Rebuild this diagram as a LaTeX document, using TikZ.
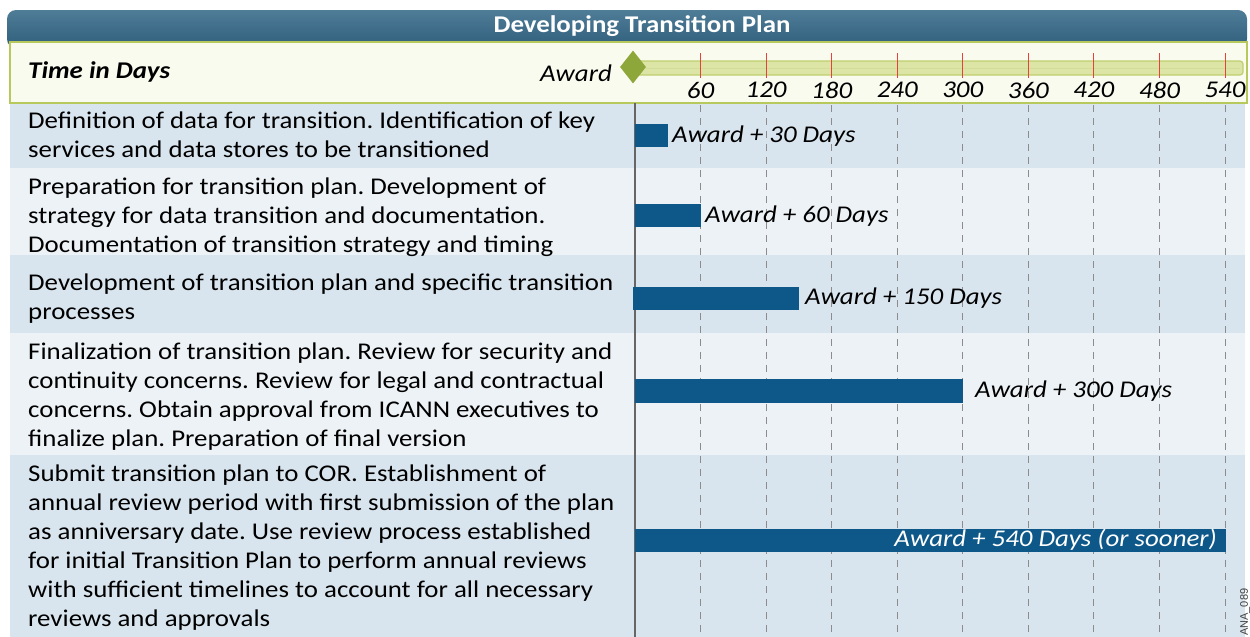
\documentclass[tikz,border=0pt]{standalone}
\usepackage{fontspec}
\setmainfont{Carlito}[FakeStretch=1.12]
\setsansfont{Liberation Sans}
\usetikzlibrary{shapes.geometric}
\frenchspacing
\definecolor{titletop}{HTML}{4F7D98}
\definecolor{titlebot}{HTML}{2F5E7B}
\definecolor{hdrbg}{HTML}{FAFBEF}
\definecolor{hdrborder}{HTML}{B7C95C}
\definecolor{tubefill}{HTML}{DCE4A6}
\definecolor{tubeborder}{HTML}{C0CF6E}
\definecolor{diamondc}{HTML}{8EA73B}
\definecolor{rowdark}{HTML}{D9E5EE}
\definecolor{rowlight}{HTML}{EDF2F6}
\definecolor{barc}{HTML}{0D5789}
\definecolor{tickred}{HTML}{E8413C}
\definecolor{dashc}{HTML}{8C8C8C}
\definecolor{axisc}{HTML}{666666}
\tikzset{
  rowtext/.style={anchor=north west, inner sep=0pt, align=left, font=\fontsize{24}{29}\selectfont, text=black},
  barlabel/.style={anchor=west, inner sep=0pt, font=\fontsize{24}{28}\selectfont\itshape},
  ticklabel/.style={inner sep=0pt, font=\fontsize{24}{28}\selectfont\itshape},
  bar/.style={fill=barc},
  gridline/.style={dashc, line width=1pt, dash pattern=on 7pt off 6pt},
}
\begin{document}
\begin{tikzpicture}[x=1pt,y=-1pt]
\useasboundingbox (0,0) rectangle (1250,637);
\fill[white] (0,0) rectangle (1250,637);
% row backgrounds
\fill[rowdark] (10,103) rectangle (1245,168);
\fill[rowlight] (10,168) rectangle (1245,255);
\fill[rowdark] (10,255) rectangle (1245,333);
\fill[rowlight] (10,333) rectangle (1245,455);
\fill[rowdark] (10,455) rectangle (1245,637);
% title bar
\shade[top color=titletop, bottom color=titlebot, rounded corners=9pt] (7,48) rectangle (1247,10);
\node[inner sep=0pt, text=white, font=\fontsize{24}{28}\selectfont\bfseries] (title) at (642,26) {Developing Transition Plan};
% header box
\draw[hdrborder, fill=hdrbg, line width=1.8pt] (10,42) rectangle (1247,103);
\node[anchor=west, inner sep=0pt, font=\fontsize{24}{28}\selectfont\bfseries\itshape] (tid) at (28,72) {Time in Days};
\node[anchor=east, inner sep=0pt, font=\fontsize{24}{28}\selectfont\itshape] (award) at (612,73) {Award};
\draw[tubeborder, fill=tubefill, line width=1.2pt, rounded corners=3pt] (633,61) rectangle (1243,75);
\draw[tubeborder!70, line width=0.8pt] (640,68) -- (1240,68);
\node[diamond, fill=diamondc, minimum width=26pt, minimum height=33pt, inner sep=0pt] (awd) at (633,67) {};
% ticks and grid
\foreach \d in {60,120,...,540}{
  \pgfmathsetmacro{\xx}{635+\d*1.0926}
  \draw[tickred, line width=1pt] (\xx,53) -- (\xx,78);
  \node[ticklabel] (t\d) at (\xx,90) {\d};
  \draw[gridline] (\xx,105) -- (\xx,637);
}
% axis
\draw[axisc, line width=1.6pt] (635,103) -- (635,637);
% row texts
\node[rowtext] (r1) at (28,112) {Definition of data for transition. Identification of key\\services and data stores to be transitioned};
\node[rowtext] (r2) at (28,178) {Preparation for transition plan. Development of\\strategy for data transition and documentation.\\Documentation of transition strategy and timing};
\node[rowtext] (r3) at (28,274) {Development of transition plan and specific transition\\processes};
\node[rowtext] (r4) at (28,343) {Finalization of transition plan. Review for security and\\continuity concerns. Review for legal and contractual\\concerns. Obtain approval from ICANN executives to\\finalize plan. Preparation of final version};
\node[rowtext] (r5) at (28,465) {Submit transition plan to COR. Establishment of\\annual review period with first submission of the plan\\as anniversary date. Use review process established\\for initial Transition Plan to perform annual reviews\\with sufficient timelines to account for all necessary\\reviews and approvals};
% bars
\fill[bar] (635,124) rectangle (668,147);
\node[barlabel] (b1) at (672,136) {Award + 30 Days};
\fill[bar] (635,204) rectangle (701,227);
\node[barlabel] (b2) at (705,216) {Award + 60 Days};
\fill[bar] (633,287) rectangle (799,310);
\node[barlabel] (b3) at (805,298) {Award + 150 Days};
\fill[bar] (635,379) rectangle (963,403);
\node[barlabel] (b4) at (975,391) {Award + 300 Days};
\fill[bar] (635,529) rectangle (1226,552);
\node[barlabel, anchor=east, text=white] (b5) at (1217,540) {Award + 540 Days (or sooner)};
% code
\node[rotate=90, anchor=west, inner sep=0pt, text=black!75, font=\sffamily\fontsize{11}{12}\selectfont] (code) at (1245,636) {ANA\_089};
\end{tikzpicture}
\end{document}
